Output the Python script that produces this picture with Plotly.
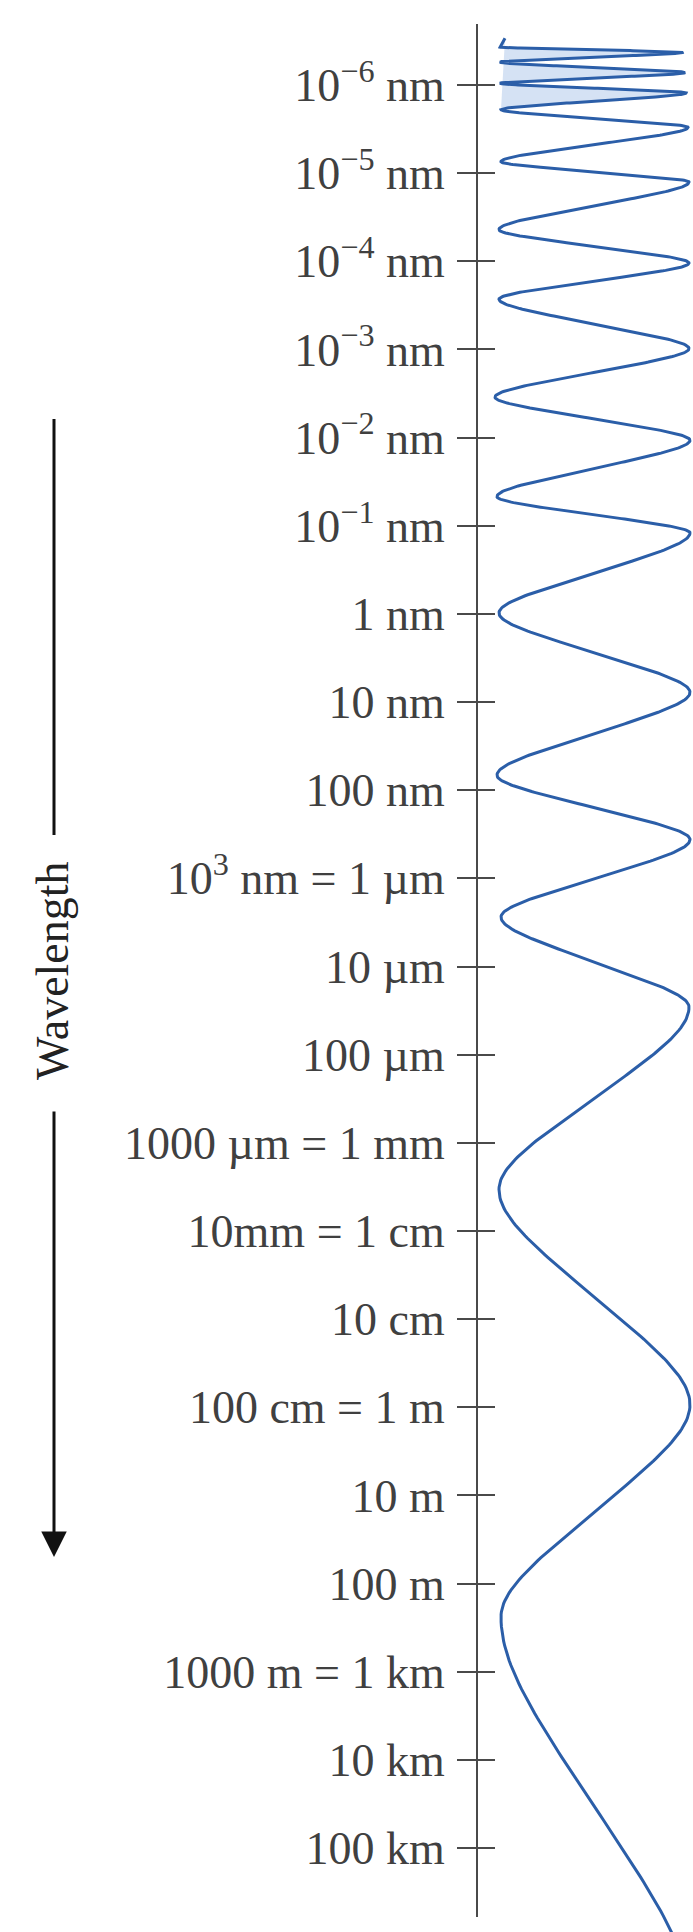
import numpy as np
import plotly.graph_objects as go

# ---------------- data ----------------
# vertical scale: log10(wavelength / metre); 10^-6 nm = 1e-15 m ... 100 km = 1e5 m
TICK_VALUES = list(range(-15, 6))
TICK_LABELS = [
    "10<sup>−6</sup> nm", "10<sup>−5</sup> nm", "10<sup>−4</sup> nm", "10<sup>−3</sup> nm",
    "10<sup>−2</sup> nm", "10<sup>−1</sup> nm", "1 nm", "10 nm", "100 nm",
    "10<sup>3</sup> nm = 1 µm", "10 µm", "100 µm", "1000 µm = 1 mm", "10mm = 1 cm",
    "10 cm", "100 cm = 1 m", "10 m", "100 m", "1000 m = 1 km", "10 km", "100 km",
]

# wave turning points (log10 wavelength position, horizontal position), alternating left/right
WAVE_TURN_V = [-15.43, -15.37, -15.26, -15.14, -15.02, -14.91, -14.72, -14.52,
               -14.13, -13.90, -13.36, -12.98, -12.57, -12.01, -11.46, -10.97,
               -10.33, -9.92, -9.01, -8.11, -7.17, -6.44, -5.56, -4.54,
               -2.47, -0.03, 2.38, 6.70]
WAVE_TURN_X = [500, 683, 500, 685, 500, 686, 501, 688,
               501, 689, 499, 689, 499, 689, 495, 690,
               497, 690, 499, 690, 497, 690, 501, 689,
               499, 690, 501, 689]
WAVE_START_V = -15.53
WAVE_START_X = 505
DENSE_TURNS = 7            # tightly folded part at the top (shaded)

# ---------------- styling / layout constants ----------------
W, H = 693, 1932
PX_PER_DEC = 88.15
Y_TOP_TICK_PX = 85         # pixel row of the first tick
BLUE = "#2b5ea8"
SHADE = "rgba(150,182,228,0.4)"
AXIS_GREY = "#4a4a4a"
LABEL_GREY = "#404040"
SERIF = "Liberation Serif"
ROUND_K = 0.8              # corner rounding of the zig-zag
N_SEG = 80


def v_at(px):
    return TICK_VALUES[0] + (px - Y_TOP_TICK_PX) / PX_PER_DEC


FULL_RANGE = [v_at(H), v_at(0)]
AXIS_TOP_PX, AXIS_BOT_PX = 24, 1917
AXIS_RANGE = [v_at(AXIS_BOT_PX), v_at(AXIS_TOP_PX)]
AXIS_DOMAIN = [(H - AXIS_BOT_PX) / H, 1 - AXIS_TOP_PX / H]
AXIS_POS = 477 / W

# ---------------- build wave ----------------
xs = [WAVE_START_X]
vs = [WAVE_START_V]
for i in range(len(WAVE_TURN_V) - 1):
    t = np.linspace(0, 1, N_SEG)
    if i > 0:
        t = t[1:]
    phi = -np.pi / 2 + np.pi * t
    g = np.arcsin(ROUND_K * np.sin(phi)) / np.arcsin(ROUND_K)
    xa, xb = WAVE_TURN_X[i], WAVE_TURN_X[i + 1]
    va, vb = WAVE_TURN_V[i], WAVE_TURN_V[i + 1]
    xs.extend(((xa + xb) / 2 + (xb - xa) / 2 * g).tolist())
    vs.extend((va + (vb - va) * t).tolist())

n_dense = 1 + N_SEG + (DENSE_TURNS - 2) * (N_SEG - 1)

fig = go.Figure()
fig.add_trace(go.Scatter(x=xs[:n_dense], y=vs[:n_dense], mode="lines", fill="toself",
                         fillcolor=SHADE, line=dict(width=0), xaxis="x", yaxis="y",
                         showlegend=False, hoverinfo="skip"))
fig.add_trace(go.Scatter(x=xs, y=vs, mode="lines", line=dict(color=BLUE, width=3),
                         xaxis="x", yaxis="y", showlegend=False, hoverinfo="skip"))
# carriers for the scale axes
fig.add_trace(go.Scatter(x=[None], y=[None], xaxis="x", yaxis="y2", showlegend=False, hoverinfo="skip"))
fig.add_trace(go.Scatter(x=[None], y=[None], xaxis="x", yaxis="y3", showlegend=False, hoverinfo="skip"))

# Wavelength label with bar and arrow
BAR_X = 54
fig.add_annotation(x=52, y=v_at(971), xref="x", yref="y", text="Wavelength", textangle=-90,
                   showarrow=False, font=dict(family=SERIF, size=46, color="#222222"))
fig.add_shape(type="line", xref="x", yref="y", x0=BAR_X, x1=BAR_X, y0=v_at(419), y1=v_at(835),
              line=dict(color="#111111", width=3))
fig.add_annotation(x=BAR_X, y=v_at(1557), ax=BAR_X, ay=v_at(1110), xref="x", yref="y",
                   axref="x", ayref="y", text="", showarrow=True, arrowhead=2, arrowsize=1.7,
                   arrowwidth=3, arrowcolor="#111111")

fig.update_layout(
    width=W, height=H,
    margin=dict(l=0, r=0, t=0, b=0),
    paper_bgcolor="white", plot_bgcolor="rgba(0,0,0,0)",
    xaxis=dict(range=[0, W], domain=[0, 1], visible=False, fixedrange=True),
    yaxis=dict(range=FULL_RANGE, domain=[0, 1], visible=False, fixedrange=True),
    yaxis2=dict(range=AXIS_RANGE, domain=AXIS_DOMAIN, anchor="free", position=AXIS_POS,
                side="left", showline=True, linecolor=AXIS_GREY, linewidth=2,
                ticks="outside", ticklen=19, tickwidth=2, tickcolor=AXIS_GREY,
                tickmode="array", tickvals=TICK_VALUES, ticktext=TICK_LABELS,
                ticklabelstandoff=3,
                tickfont=dict(family=SERIF, size=46, color=LABEL_GREY),
                showgrid=False, zeroline=False, fixedrange=True),
    yaxis3=dict(range=AXIS_RANGE, overlaying="y2", anchor="free", position=AXIS_POS,
                side="left", showline=False, ticks="inside", ticklen=17, tickwidth=2,
                tickcolor=AXIS_GREY, tickmode="array", tickvals=TICK_VALUES,
                showticklabels=False, showgrid=False, zeroline=False, fixedrange=True),
)

fig.write_html("out.html", config={"displayModeBar": False},
               post_script="document.body.style.margin='0px';document.body.style.overflow='hidden';")
